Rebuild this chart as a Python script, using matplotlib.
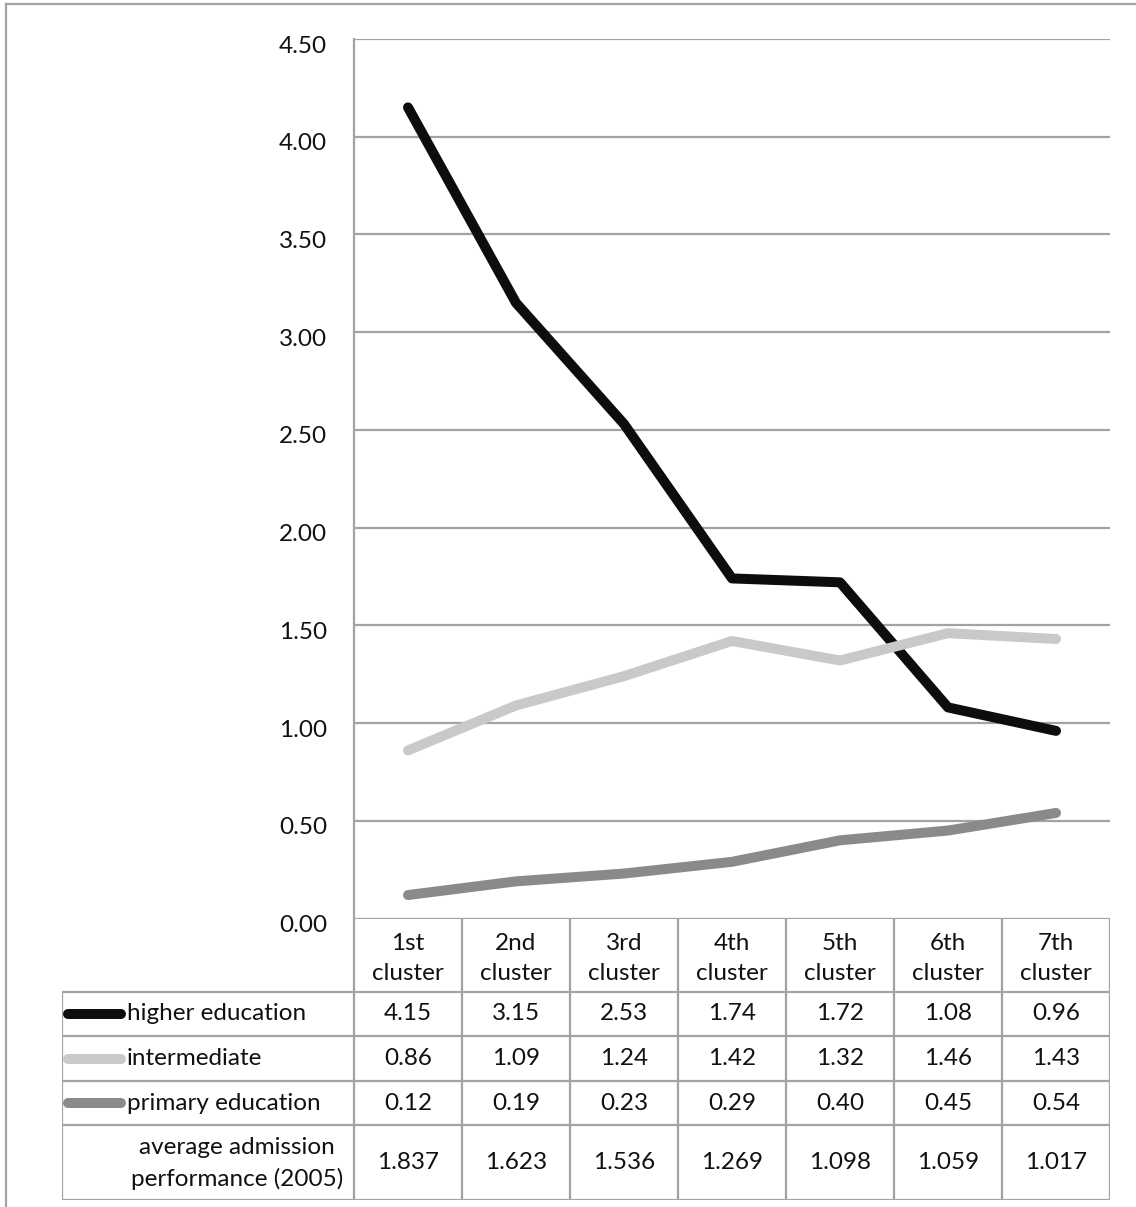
import matplotlib.pyplot as plt
from matplotlib.lines import Line2D
from matplotlib.transforms import ScaledTranslation

plt.rcParams['font.family'] = ['Lato', 'DejaVu Sans']

# cluster data
clusters = ['1st\ncluster', '2nd\ncluster', '3rd\ncluster', '4th\ncluster',
            '5th\ncluster', '6th\ncluster', '7th\ncluster']
higher = [4.15, 3.15, 2.53, 1.74, 1.72, 1.08, 0.96]
intermediate = [0.86, 1.09, 1.24, 1.42, 1.32, 1.46, 1.43]
primary = [0.12, 0.19, 0.23, 0.29, 0.40, 0.45, 0.54]
admission = ['1.837', '1.623', '1.536', '1.269', '1.098', '1.059', '1.017']

series_names = ['higher education', 'intermediate', 'primary education']
series_vals = [higher, intermediate, primary]
series_cols = ['#0d0d0d', '#c9c9c9', '#8a8a8a']
yticks = [0, 0.5, 1.0, 1.5, 2.0, 2.5, 3.0, 3.5, 4.0, 4.5]

W, H = 1136, 1207
grid_col = '#a3a3a3'
txt_col = '#111111'
fs = 17.5
lw = 7.2

fig = plt.figure(figsize=(W / 100, H / 100), dpi=100)

# outer frame (top and left edges)
fig.add_artist(Line2D([6 / W, 6 / W], [0, 1 - 4 / H], color=grid_col, lw=1.6))
fig.add_artist(Line2D([6 / W, 1], [1 - 4 / H, 1 - 4 / H], color=grid_col, lw=1.6))

# plot area in pixels
x0, x1 = 354, 1110
y_top, y_zero = 39, 918.5
ax = fig.add_axes([x0 / W, 1 - y_zero / H, (x1 - x0) / W, (y_zero - y_top) / H])
ax.set_xlim(0, 7)
ax.set_ylim(0, 4.5)
xs = [i + 0.5 for i in range(7)]
for vals, col in zip(series_vals, series_cols):
    ax.plot(xs, vals, color=col, lw=lw, solid_capstyle='round',
            solid_joinstyle='round', zorder=3)
ax.set_yticks(yticks)
ax.set_yticklabels(['%.2f' % v for v in yticks], fontsize=fs, color=txt_col)
ax.tick_params(axis='y', length=0, pad=19.5)
shift = ScaledTranslation(0, -5 / 100, fig.dpi_scale_trans)
for lab in ax.get_yticklabels():
    lab.set_transform(lab.get_transform() + shift)
ax.set_xticks([])
ax.grid(axis='y', color=grid_col, lw=1.6)
for s in ['top', 'right', 'bottom']:
    ax.spines[s].set_visible(False)
ax.spines['left'].set_color(grid_col)
ax.spines['left'].set_linewidth(1.6)
ax.set_axisbelow(True)

# data table below the plot, x in category units
tx0, ty1 = 62, 1200
lab_w = (x0 - tx0) / 108.0
tab = fig.add_axes([tx0 / W, 1 - ty1 / H, (x1 - tx0) / W, (ty1 - y_zero) / H])
tab.set_xlim(-lab_w, 7)
tab.set_ylim(ty1 - y_zero, 0)
tab.axis('off')

rows = [0, 73.5, 117.5, 162.5, 206.5, 281.5]
tk = dict(color=grid_col, lw=1.6, solid_capstyle='projecting')
# horizontal lines
for r in rows[1:]:
    tab.plot([-lab_w, 7], [r, r], **tk)
# vertical lines
for i in range(8):
    tab.plot([i, i], [0, rows[-1]], **tk)
tab.plot([-lab_w, -lab_w], [rows[1], rows[-1]], **tk)

for i, c in enumerate(clusters):
    tab.text(i + 0.5, rows[1] / 2 + 3, c, ha='center', va='center',
             fontsize=fs, linespacing=1.55, color=txt_col)

for k, (name, vals, col) in enumerate(zip(series_names, series_vals, series_cols)):
    yc = (rows[k + 1] + rows[k + 2]) / 2
    tab.plot([-lab_w + 0.06, -lab_w + 0.55], [yc, yc], color=col, lw=lw,
             solid_capstyle='round')
    tab.text(-lab_w + 0.6, yc, name, ha='left', va='center', fontsize=fs,
             color=txt_col)
    for i, v in enumerate(vals):
        tab.text(i + 0.5, yc, '%.2f' % v, ha='center', va='center',
                 fontsize=fs, color=txt_col)

yc = (rows[4] + rows[5]) / 2
tab.text(-0.1, yc + 1, 'average admission\nperformance (2005)', ha='right',
         va='center', multialignment='center', fontsize=fs, linespacing=1.55,
         color=txt_col)
for i, v in enumerate(admission):
    tab.text(i + 0.5, yc, v, ha='center', va='center', fontsize=fs,
             color=txt_col)

fig.savefig('out.png', dpi=100)
